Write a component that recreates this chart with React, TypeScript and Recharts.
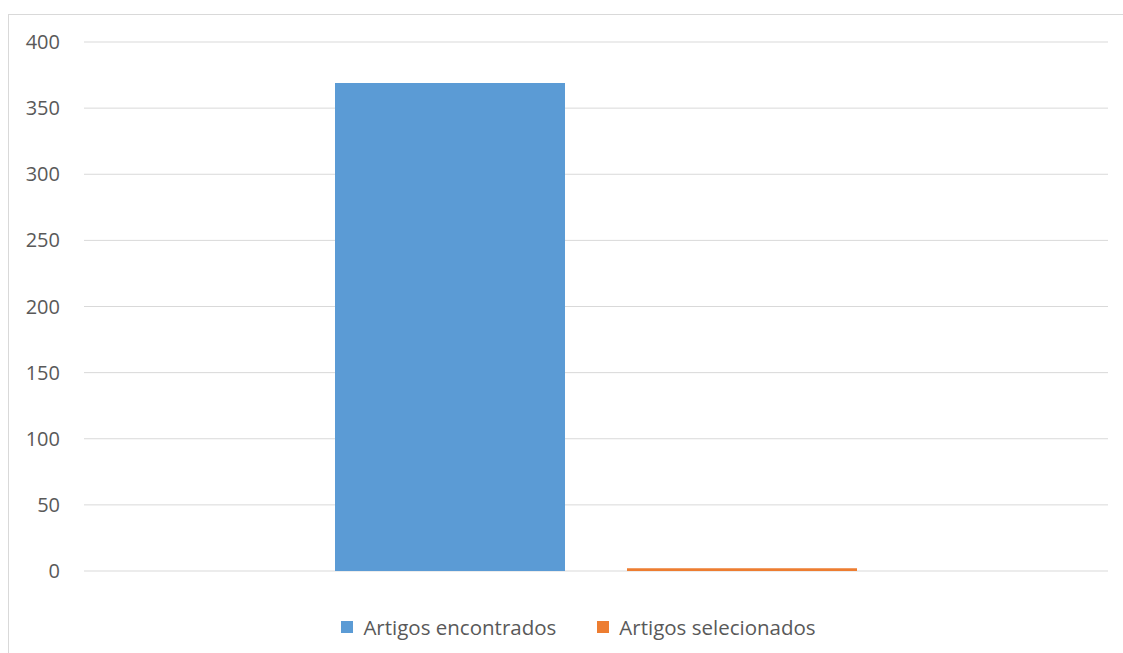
import React from "react";
import { Bar, BarChart, CartesianGrid, Legend, XAxis, YAxis } from "recharts";

const categories = [""];
const encontrados = [369];
const selecionados = [2];
const yTicks = [0, 50, 100, 150, 200, 250, 300, 350, 400];

const data = categories.map((label, i) => ({
  label,
  encontrados: encontrados[i],
  selecionados: selecionados[i],
}));

const TEXT = "#595959";
const LINE = "#d9d9d9";
const FONT = "'Open Sans', 'Liberation Sans', sans-serif";

function LegendRow({ payload }: any) {
  return (
    <div
      style={{
        display: "flex",
        justifyContent: "center",
        gap: 41,
        paddingLeft: 40,
        fontFamily: FONT,
      }}
    >
      {(payload || []).map((p: any) => (
        <div key={p.value} style={{ display: "flex", alignItems: "center", gap: 10 }}>
          <span style={{ width: 12, height: 12, background: p.color, display: "inline-block" }} />
          <span style={{ fontSize: 20.5, color: TEXT, lineHeight: "28px" }}>{p.value}</span>
        </div>
      ))}
    </div>
  );
}

export default function App() {
  return (
    <div
      style={{
        position: "fixed",
        left: 0,
        top: 0,
        width: 1123,
        height: 653,
        overflow: "hidden",
        background: "#fff",
      }}
    >
      <div
        style={{
          position: "absolute",
          left: 8,
          top: 14,
          width: 1200,
          height: 700,
          border: `1px solid ${LINE}`,
          boxSizing: "border-box",
        }}
      >
        <BarChart
          width={1114}
          height={638}
          data={data}
          margin={{ top: 27, right: 15, bottom: 54, left: 0 }}
          barSize={230}
          barGap={62}
        >
          <CartesianGrid stroke={LINE} vertical={false} />
          <XAxis dataKey="label" hide />
          <YAxis
            width={75}
            domain={[0, 400]}
            ticks={yTicks}
            tickLine={false}
            axisLine={false}
            tickMargin={18}
            tick={{ fill: TEXT, fontSize: 20, fontFamily: FONT }}
          />
          <Legend
            verticalAlign="bottom"
            content={<LegendRow />}
            wrapperStyle={{ bottom: 12 }}
          />
          <Bar dataKey="encontrados" name="Artigos encontrados" fill="#5b9bd5" isAnimationActive={false} />
          <Bar dataKey="selecionados" name="Artigos selecionados" fill="#ed7d31" isAnimationActive={false} />
        </BarChart>
      </div>
    </div>
  );
}
